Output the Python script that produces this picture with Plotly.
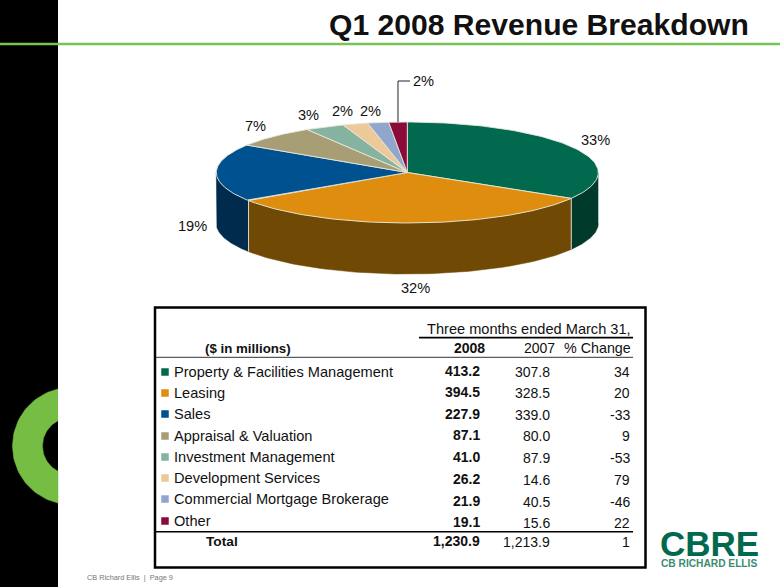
import numpy as np
import plotly.graph_objects as go

categories = ["Property & Facilities Management", "Leasing", "Sales", "Appraisal & Valuation",
              "Investment Management", "Development Services", "Commercial Mortgage Brokerage", "Other"]
values_2008 = [413.2, 394.5, 227.9, 87.1, 41.0, 26.2, 21.9, 19.1]
values_2007 = [307.8, 328.5, 339.0, 80.0, 87.9, 14.6, 40.5, 15.6]
pct_change = [34, 20, -33, 9, -53, 79, -46, 22]
total_row = ["1,230.9", "1,213.9", "1"]
pie_labels = ["33%", "32%", "19%", "7%", "3%", "2%", "2%", "2%"]

top_colors = ["#00694E", "#DF8D0E", "#00518F", "#A79E75", "#86B3A0", "#EDC899", "#90A6CC", "#8A0A3A"]
wall_colors = ["#003A2B", "#704A05", "#002B4C", "#5F5A40", "#4C6A5C", "#8A7050", "#505E78", "#50061F"]
label_pos = [(595, 140), (415, 288), (192, 226), (255, 126), (308, 115), (342, 111), (370, 111), (423, 81)]
label_rows = [372, 393, 414, 436, 457, 478, 499, 521]
value_rows = [371, 392, 414, 435, 457, 479, 501, 522]

CX, CY, RX, RY, DEPTH = 407.3, 172.5, 191, 50.5, 51
GREEN = "#78C25A"
INK = "#111111"

fig = go.Figure()
ann = []


def text(x, y, s, size=14, anchor="left", bold=False, color=INK):
    ann.append(dict(x=x, y=y, xref="x", yref="y", text=f"<b>{s}</b>" if bold else s, showarrow=False,
                    xanchor=anchor, yanchor="middle", borderpad=0,
                    font=dict(family="Liberation Sans, Arial", size=size, color=color)))


def ell(deg):
    a = np.radians(deg)
    return CX + RX * np.sin(a), CY - RY * np.cos(a)


def poly(xs, ys, fill, line=None, width=1):
    fig.add_trace(go.Scatter(x=xs, y=ys, mode="lines", fill="toself", fillcolor=fill,
                             line=dict(color=line or fill, width=width if line else 0.5),
                             hoverinfo="skip", showlegend=False))


def seg(xs, ys, color, width=1):
    fig.add_trace(go.Scatter(x=xs, y=ys, mode="lines", line=dict(color=color, width=width),
                             hoverinfo="skip", showlegend=False))


# slide furniture
shapes = [
    dict(type="rect", x0=0, x1=58, y0=0, y1=587, fillcolor="#000000", line_width=0, layer="below"),
    dict(type="rect", x0=0, x1=780, y0=42.7, y1=45.3, fillcolor=GREEN, line_width=0, layer="below"),
    dict(type="rect", x0=155, x1=645.5, y0=307.5, y1=567.5, line=dict(color="#000000", width=2.5), layer="below"),
]
fig.update_layout(shapes=shapes)

# green ring, clipped at the band's edge
rcx, rcy, ro, ri = 71, 446, 58.5, 28.5
ta = np.arccos((58 - rcx) / ro)
tb = np.arccos((58 - rcx) / ri)
outer = np.linspace(ta, 2 * np.pi - ta, 60)
inner = np.linspace(2 * np.pi - tb, tb, 40)
poly(list(rcx + ro * np.cos(outer)) + list(rcx + ri * np.cos(inner)),
     list(rcy - ro * np.sin(outer)) + list(rcy - ri * np.sin(inner)), "#76BD43")

# 3-D pie built from the 2008 values
v = np.array(values_2008)
edges = np.concatenate([[0], np.cumsum(v) / v.sum() * 360])
for i in range(len(v)):
    a0, a1 = max(edges[i], 90), min(edges[i + 1], 270)
    if a1 > a0:
        x, y = ell(np.linspace(a0, a1, 80))
        poly(list(x) + list(x[::-1]), list(y) + list((y + DEPTH)[::-1]), wall_colors[i])
for e in edges[1:]:
    if 90 < e < 270:
        x, y = ell(e)
        seg([x, x], [y, y + DEPTH], "#D8D8C8", 1)
for i in range(len(v)):
    x, y = ell(np.linspace(edges[i], edges[i + 1], 100))
    poly([CX] + list(x) + [CX], [CY] + list(y) + [CY], top_colors[i], "#E6E6DA", 0.9)

# leader line for the last slice
lx, ly = ell((edges[-2] + edges[-1]) / 2)
seg([lx, lx, 410], [ly, label_pos[-1][1], label_pos[-1][1]], "#222222", 1)

for s, (x, y) in zip(pie_labels, label_pos):
    text(x, y, s, size=14.6, anchor="center")

# table rules
seg([419, 633], [337.7, 337.7], "#000000", 1.8)
seg([156, 633], [357.3, 357.3], "#333333", 1)
seg([156, 633], [531.7, 531.7], "#000000", 1.6)

# legend swatches
fig.add_trace(go.Scatter(x=[165] * len(categories), y=label_rows, mode="markers",
                         marker=dict(symbol="square", size=7.5, color=top_colors, line_width=0),
                         hoverinfo="skip", showlegend=False))

text(631.5, 329, "Three months ended March 31,", 14.6, "right")
text(204, 348, "($ in millions)", 13.3, "left", bold=True)
text(485.5, 348, "2008", 14, "right", bold=True)
text(555.5, 348, "2007", 14, "right")
text(631.5, 348, "% Change", 14.3, "right")
for c, ly_, vy, a, b, p in zip(categories, label_rows, value_rows, values_2008, values_2007, pct_change):
    text(172.5, ly_, c, 14.6)
    text(480.5, vy, f"{a:.1f}", 14, "right", bold=True)
    text(550.5, vy + 0.5, f"{b:.1f}", 14, "right")
    text(631, vy + 0.5, str(p), 14, "right")
text(205, 541.5, "Total", 13.7, "left", bold=True)
text(480.5, 541, total_row[0], 14, "right", bold=True)
text(550.5, 542, total_row[1], 14, "right")
text(631, 542, total_row[2], 14, "right")

text(749.5, 24, "Q1 2008 Revenue Breakdown", 30.1, "right", bold=True)
text(86, 577.5, "CB Richard Ellis  |  Page 9", 7.3, "left", color="#777777")
text(709, 543.5, "CBRE", 35, "center", bold=True, color="#00694E")
text(709, 563, "CB RICHARD ELLIS", 10.2, "center", bold=True, color="#3A8C70")

fig.update_layout(
    width=780, height=587, margin=dict(l=0, r=0, t=0, b=0), autosize=False,
    paper_bgcolor="#FFFFFF", plot_bgcolor="#FFFFFF", showlegend=False,
    xaxis=dict(range=[0, 780], visible=False, fixedrange=True),
    yaxis=dict(range=[587, 0], visible=False, fixedrange=True),
    annotations=ann,
)
fig.write_html("out.html", config=dict(displayModeBar=False),
               post_script="document.body.style.margin='0';document.documentElement.style.overflow='hidden';")
